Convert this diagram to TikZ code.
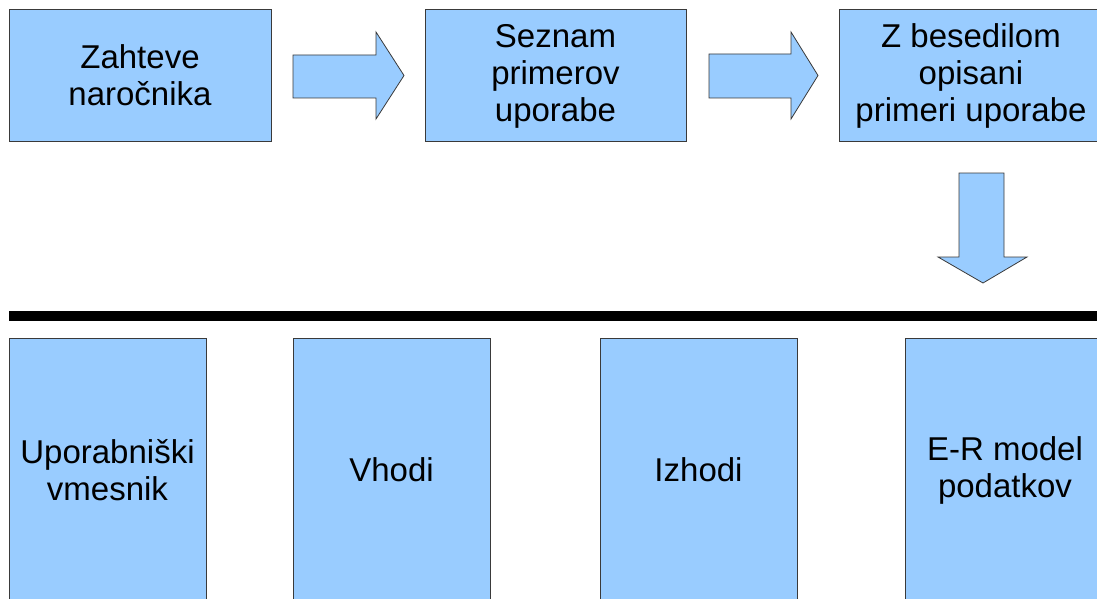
\documentclass[tikz,border=0pt]{standalone}
\usepackage{fontspec}
\setmainfont{Liberation Sans}
\definecolor{boxfill}{HTML}{99CCFF}
\definecolor{boxline}{HTML}{3A3A3A}
\begin{document}
\begin{tikzpicture}[x=1pt,y=-1pt,
  stagebox/.style={draw=boxline, line width=1pt, fill=boxfill, inner sep=0pt},
  boxtext/.style={align=center, font=\fontsize{33}{37}\selectfont, text=black},
  blockarrow/.style={draw=boxline, line width=0.8pt, fill=boxfill, line join=miter}]
\useasboundingbox (0,0) rectangle (1097,599);
\clip (0,0) rectangle (1097,599);

% top row: requirements -> list of use cases -> described use cases
\draw[stagebox] (9,10) rectangle (271,141);
\node[boxtext] (req) at (140,75) {Zahteve\\naročnika};
\draw[stagebox] (425,10) rectangle (686,141);
\node[boxtext] (list) at (555.5,76) {Seznam\\primerov\\uporabe};
\draw[stagebox] (839,10) rectangle (1103,141);
\node[boxtext] (desc) at (971,76) {Z besedilom\\opisani\\primeri uporabe};

% block arrows between the stages
\draw[blockarrow] (293,55) -- (376,55) -- (376,32) -- (404,75.5) -- (376,119) -- (376,98) -- (293,98) -- cycle;
\draw[blockarrow] (709,54) -- (791,54) -- (791,32) -- (818,75.5) -- (791,119) -- (791,98) -- (709,98) -- cycle;
\draw[blockarrow] (959,173) -- (1004,173) -- (1004,257) -- (1027,257) -- (983,283) -- (938,257) -- (959,257) -- cycle;

% separator
\fill[black] (9,311) rectangle (1097,321);

% bottom row: design artefacts
\draw[stagebox] (9,338) rectangle (206,620);
\node[boxtext] (ui) at (107.5,470) {Uporabniški\\vmesnik};
\draw[stagebox] (293,338) rectangle (490,620);
\node[boxtext] (in) at (391.5,470) {Vhodi};
\draw[stagebox] (600,338) rectangle (797,620);
\node[boxtext] (out) at (698.5,470) {Izhodi};
\draw[stagebox] (905,338) rectangle (1105,620);
\node[boxtext] (er) at (1005,470) {E-R model\\podatkov};
\end{tikzpicture}
\end{document}
